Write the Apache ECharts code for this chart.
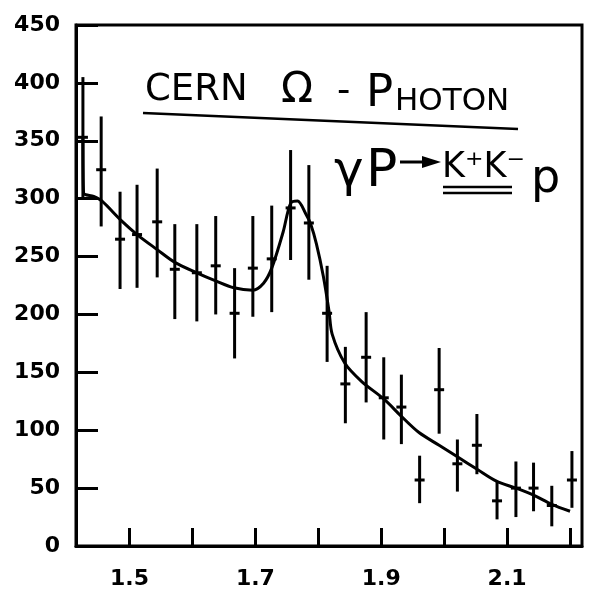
<!DOCTYPE html>
<html>
<head>
<meta charset="utf-8">
<script src="https://cdn.jsdelivr.net/npm/echarts@6/dist/echarts.min.js"></script>
<style>
html,body{margin:0;padding:0;background:#fff;}
#chart{width:594px;height:604px;}
</style>
</head>
<body>
<div id="chart"></div>
<script>
// K+K- invariant mass bins (GeV) and events per bin
const massX = [1.426, 1.455, 1.485, 1.512, 1.544, 1.572, 1.607, 1.637, 1.667, 1.696, 1.726, 1.756, 1.785, 1.814, 1.843, 1.876, 1.904, 1.932, 1.961, 1.992, 2.021, 2.052, 2.084, 2.114, 2.142, 2.171, 2.203];
const events = [353, 325, 265, 269, 280, 239, 236, 242, 201, 240, 248, 292, 279, 201, 140, 163, 128, 120, 57, 135, 71, 87, 39, 50, 50, 35, 57];
const errLow = [301, 276, 222, 223, 232, 196, 194, 200, 162, 198, 202, 247, 230, 159, 106, 124, 92, 88, 37, 97, 47, 62, 23, 25, 30, 17, 33];
const errHigh = [405, 371, 306, 312, 326, 278, 278, 285, 240, 285, 294, 342, 329, 242, 172, 202, 163, 148, 78, 171, 92, 114, 56, 73, 72, 52, 82];

// fitted curve (background + resonance)
const fitX = [1.426, 1.427, 1.443, 1.456, 1.487, 1.512, 1.544, 1.572, 1.607, 1.637, 1.666, 1.696, 1.713, 1.726, 1.744, 1.756, 1.767, 1.780, 1.788, 1.797, 1.808, 1.817, 1.822, 1.842, 1.869, 1.904, 1.932, 1.960, 1.992, 2.021, 2.053, 2.083, 2.114, 2.142, 2.171, 2.200];
const fitY = [354, 305, 302, 298, 281, 269, 256, 245, 236, 229, 223, 221, 227, 240, 271, 296, 298, 287, 278, 261, 233, 203, 183, 158, 142, 127, 112, 98, 87, 77, 66, 56, 50, 44, 36, 30];

// axis ticks and labels
const xTicks = [1.5, 1.6, 1.7, 1.8, 1.9, 2.0, 2.1, 2.2];
const xTickLabels = [1.5, 1.7, 1.9, 2.1];
const yTickLabels = [0, 50, 100, 150, 200, 250, 300, 350, 400, 450];

const chart = echarts.init(document.getElementById('chart'), null, {renderer: 'canvas'});

const labelFont = {color: '#000', fontFamily: 'DejaVu Sans', fontWeight: 'bold', fontSize: 22};
const hf = '"DejaVu Sans"';

const option = {
  backgroundColor: '#fff',
  animation: false,
  grid: {left: 76, right: 12, top: 25, bottom: 58, show: true, borderColor: '#000', borderWidth: 3, backgroundColor: 'transparent'},
  xAxis: {
    type: 'value', min: 1.415, max: 2.219,
    axisLine: {show: true, lineStyle: {color: '#000', width: 3}},
    axisTick: {show: true, inside: true, length: 18, lineStyle: {color: '#000', width: 3}, customValues: xTicks},
    axisLabel: Object.assign({margin: 22, customValues: xTickLabels, formatter: v => v.toFixed(1)}, labelFont),
    splitLine: {show: false}
  },
  yAxis: {
    type: 'value', min: yTickLabels[0], max: yTickLabels[yTickLabels.length - 1], interval: 50,
    axisLine: {show: true, lineStyle: {color: '#000', width: 3}},
    axisTick: {show: true, inside: true, length: 22, lineStyle: {color: '#000', width: 3}},
    axisLabel: Object.assign({margin: 16}, labelFont),
    splitLine: {show: false}
  },
  series: [
    {
      type: 'line',
      data: fitX.map((x, i) => [x, fitY[i]]),
      showSymbol: false,
      smooth: 0.3,
      lineStyle: {color: '#000', width: 3},
      z: 3
    },
    {
      type: 'custom',
      data: massX.map((x, i) => [x, errLow[i], errHigh[i], events[i]]),
      encode: {x: 0, y: [1, 2, 3]},
      renderItem: function (params, api) {
        const x = api.value(0);
        const pLo = api.coord([x, api.value(1)]);
        const pHi = api.coord([x, api.value(2)]);
        const pC = api.coord([x, api.value(3)]);
        return {
          type: 'group',
          children: [
            {type: 'line', shape: {x1: pLo[0], y1: pLo[1], x2: pHi[0], y2: pHi[1]}, style: {stroke: '#000', lineWidth: 3}},
            {type: 'line', shape: {x1: pC[0] - 5, y1: pC[1], x2: pC[0] + 5, y2: pC[1]}, style: {stroke: '#000', lineWidth: 3}}
          ]
        };
      },
      z: 4
    }
  ],
  graphic: [
    {type: 'text', left: 145, top: 72, style: {text: 'CERN', font: 'normal 37px ' + hf, fill: '#000'}},
    {type: 'text', left: 281, top: 70, style: {text: 'Ω', font: 'normal 42px ' + hf, fill: '#000'}},
    {type: 'text', left: 337, top: 74, style: {text: '-', font: 'normal 37px ' + hf, fill: '#000'}},
    {type: 'text', left: 366, top: 72, style: {text: 'P', font: 'normal 45px ' + hf, fill: '#000'}},
    {type: 'text', left: 395, top: 86, style: {text: 'HOTON', font: 'normal 31px ' + hf, fill: '#000'}},
    {type: 'line', shape: {x1: 143, y1: 113, x2: 518, y2: 129}, style: {stroke: '#000', lineWidth: 2.5}},
    {type: 'text', left: 334, top: 148, style: {text: 'γ', font: 'normal 50px ' + hf, fill: '#000'}},
    {type: 'text', left: 366, top: 146, style: {text: 'P', font: 'normal 52px ' + hf, fill: '#000'}},
    {type: 'line', shape: {x1: 400, y1: 162, x2: 430, y2: 162}, style: {stroke: '#000', lineWidth: 3}},
    {type: 'polygon', shape: {points: [[422, 156], [441, 162], [422, 168]]}, style: {fill: '#000'}},
    {type: 'text', left: 442, top: 150, style: {text: 'K⁺K⁻', font: 'normal 35px ' + hf, fill: '#000'}},
    {type: 'line', shape: {x1: 443, y1: 187, x2: 512, y2: 187}, style: {stroke: '#000', lineWidth: 2.5}},
    {type: 'line', shape: {x1: 443, y1: 193, x2: 512, y2: 193}, style: {stroke: '#000', lineWidth: 2.5}},
    {type: 'text', left: 531, top: 157, style: {text: 'p', font: 'normal 46px ' + hf, fill: '#000'}}
  ]
};
chart.setOption(option);
</script>
</body>
</html>
